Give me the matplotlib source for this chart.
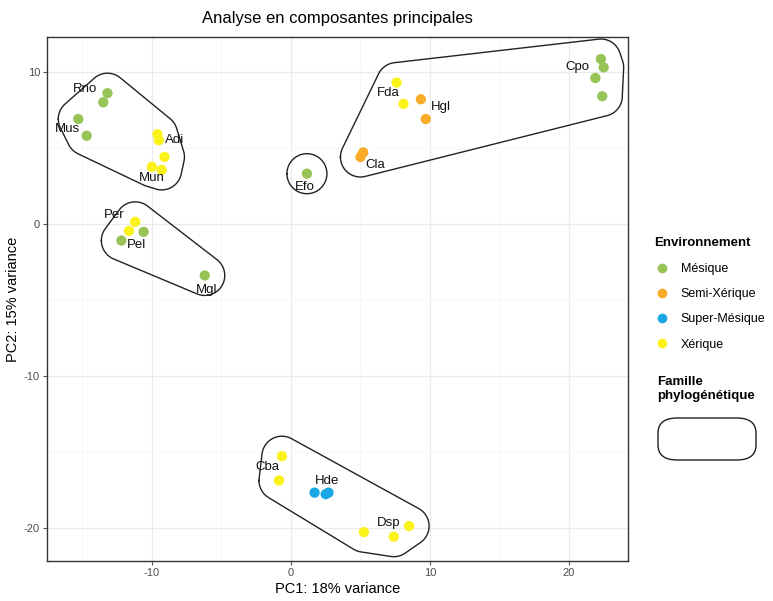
import numpy as np
import matplotlib
matplotlib.use('Agg')
import matplotlib.pyplot as plt
import matplotlib.patches as patches
from matplotlib.lines import Line2D

plt.rcParams['font.family'] = ['Liberation Sans', 'DejaVu Sans']
plt.rcParams['axes.unicode_minus'] = False

# --- data ---
species = ['Rno', 'Rno', 'Mus', 'Mus',
           'Adi', 'Adi', 'Adi', 'Mun', 'Mun',
           'Per', 'Per', 'Pel', 'Pel', 'Mgl',
           'Efo',
           'Fda', 'Fda', 'Hgl', 'Hgl', 'Cla', 'Cla',
           'Cpo', 'Cpo', 'Cpo', 'Cpo',
           'Cba', 'Cba', 'Hde', 'Hde', 'Hde', 'Dsp', 'Dsp', 'Dsp']
pc1 = [-13.2, -13.5, -15.3, -14.7,
       -9.6, -9.5, -9.1, -10.0, -9.3,
       -11.2, -11.65, -10.6, -12.2, -6.2,
       1.15,
       7.6, 8.1, 9.35, 9.7, 5.2, 5.0,
       22.3, 22.5, 21.9, 22.4,
       -0.65, -0.86, 1.7, 2.5, 2.7, 5.25, 7.4, 8.5]
pc2 = [8.6, 8.0, 6.9, 5.8,
       5.9, 5.5, 4.4, 3.75, 3.55,
       0.13, -0.46, -0.53, -1.1, -3.4,
       3.3,
       9.3, 7.9, 8.2, 6.9, 4.7, 4.4,
       10.85, 10.3, 9.6, 8.4,
       -15.3, -16.9, -17.7, -17.8, -17.7, -20.3, -20.6, -19.9]
env = ['Mésique', 'Mésique', 'Mésique', 'Mésique',
       'Xérique', 'Xérique', 'Xérique', 'Xérique', 'Xérique',
       'Xérique', 'Xérique', 'Mésique', 'Mésique', 'Mésique',
       'Mésique',
       'Xérique', 'Xérique', 'Semi-Xérique', 'Semi-Xérique', 'Semi-Xérique', 'Semi-Xérique',
       'Mésique', 'Mésique', 'Mésique', 'Mésique',
       'Xérique', 'Xérique', 'Super-Mésique', 'Super-Mésique', 'Super-Mésique',
       'Xérique', 'Xérique', 'Xérique']

families = [['Rno', 'Mus', 'Adi', 'Mun'],
            ['Per', 'Pel', 'Mgl'],
            ['Efo'],
            ['Fda', 'Hgl', 'Cla', 'Cpo'],
            ['Cba', 'Hde', 'Dsp']]

label_names = ['Rno', 'Mus', 'Adi', 'Mun', 'Per', 'Pel', 'Mgl', 'Fda', 'Hgl',
               'Cla', 'Cpo', 'Efo', 'Cba', 'Hde', 'Dsp']
label_x = [-14.8, -16.1, -8.35, -10.0, -12.7, -11.1, -6.05, 7.0, 10.8,
           6.1, 20.6, 1.0, -1.7, 2.6, 7.0]
label_y = [8.9, 6.25, 5.5, 3.0, 0.6, -1.4, -4.35, 8.6, 7.7,
           3.9, 10.3, 2.4, -16.0, -16.9, -19.7]

env_levels = ['Mésique', 'Semi-Xérique', 'Super-Mésique', 'Xérique']
env_colors = {'Mésique': '#98c356', 'Semi-Xérique': '#f8ac2a',
              'Super-Mésique': '#18a8e6', 'Xérique': '#fbf21c'}

fig = plt.figure(figsize=(7.73, 6.01), dpi=100)
ax = fig.add_axes([47 / 773, 40 / 601, 581 / 773, 524 / 601])
ax.set_xlim(-17.55, 24.25)
ax.set_ylim(-22.2, 12.3)

ax.set_xticks([-10, 0, 10, 20])
ax.set_yticks([-20, -10, 0, 10])
ax.set_xticks([-15, -5, 5, 15], minor=True)
ax.set_yticks([-15, -5, 5], minor=True)
ax.grid(which='major', color='#ebebeb', lw=0.9)
ax.grid(which='minor', color='#f4f4f4', lw=0.5)
ax.set_axisbelow(True)
ax.tick_params(which='major', length=3, pad=2, color='#555555', labelcolor='#4d4d4d', labelsize=8)
ax.tick_params(which='minor', length=0)
for s in ax.spines.values():
    s.set_color('#333333')
    s.set_linewidth(1.0)

ax.set_xlabel('PC1: 18% variance', fontsize=10.5, labelpad=3)
ax.set_ylabel('PC2: 15% variance', fontsize=10.5)
ax.yaxis.set_label_coords(-0.0465, 0.5)
ax.set_title('Analyse en composantes principales', fontsize=12, pad=10)


def convex_hull(pts):
    pts = sorted(set(map(tuple, pts)))
    def cross(o, a, b):
        return (a[0] - o[0]) * (b[1] - o[1]) - (a[1] - o[1]) * (b[0] - o[0])
    lower, upper = [], []
    for p in pts:
        while len(lower) >= 2 and cross(lower[-2], lower[-1], p) <= 0:
            lower.pop()
        lower.append(p)
    for p in reversed(pts):
        while len(upper) >= 2 and cross(upper[-2], upper[-1], p) <= 0:
            upper.pop()
        upper.append(p)
    return np.array(lower[:-1] + upper[:-1])


# hulls around each family, expanded in pixel space
radius = 20
theta = np.linspace(0, 2 * np.pi, 72, endpoint=False)
xy = np.column_stack([pc1, pc2])
for fam in families:
    sel = xy[[s in fam for s in species]]
    pix = ax.transData.transform(sel)
    buf = np.vstack([p + radius * np.column_stack([np.cos(theta), np.sin(theta)]) for p in pix])
    hull = convex_hull(buf)
    hull = np.vstack([hull, hull[:1]])
    hull_data = ax.transData.inverted().transform(hull)
    ax.plot(hull_data[:, 0], hull_data[:, 1], color='#222222', lw=1.0, zorder=2)

cols = [env_colors[e] for e in env]
ax.scatter(pc1, pc2, c=cols, s=55, edgecolors='none', zorder=3)

for name, lx, ly in zip(label_names, label_x, label_y):
    ax.text(lx, ly, name, fontsize=9.5, ha='center', va='center', color='#111111', zorder=4)

# legend: environment
handles = [Line2D([], [], marker='o', ls='none', markersize=7, markerfacecolor=env_colors[e],
                  markeredgecolor='none', label=e) for e in env_levels]
leg = fig.legend(handles=handles, loc='upper left', bbox_to_anchor=(643 / 773, 1 - 226 / 601),
                 frameon=False, title='Environnement', fontsize=9, handletextpad=0.9,
                 labelspacing=1.05, alignment='left', handlelength=1.2)
leg.get_title().set_fontweight('bold')
leg.get_title().set_fontsize(9.5)
leg._legend_box.sep = 10

# legend: family hull key
fig.text(657 / 773, 1 - 376 / 601, 'Famille\nphylogénétique', fontsize=9.5, fontweight='bold',
         ha='left', va='top', linespacing=1.2)
box = patches.FancyBboxPatch((658 / 773, 1 - 460 / 601), 98 / 773, 42 / 601,
                             boxstyle='round,pad=0,rounding_size=0.025',
                             transform=fig.transFigure, fill=False, ec='#222222', lw=1.0)
fig.patches.append(box)

fig.savefig('out.png', dpi=100)
